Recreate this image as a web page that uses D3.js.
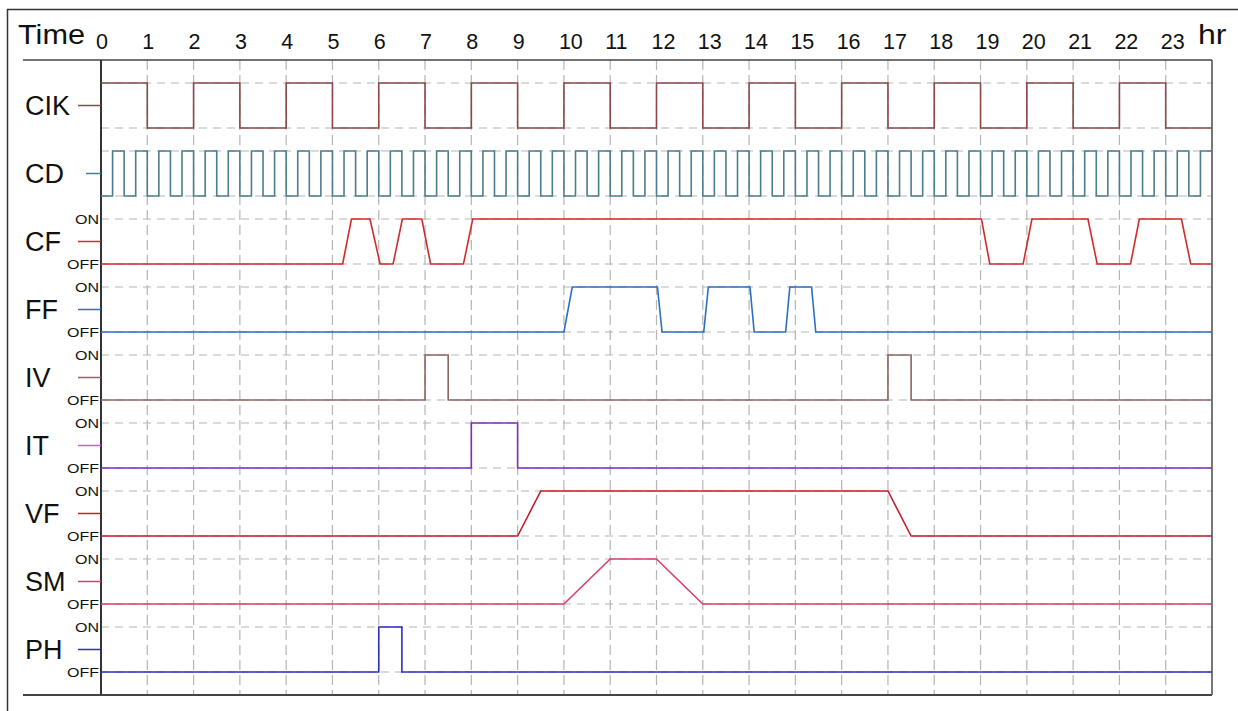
<!DOCTYPE html>
<html>
<head>
<meta charset="utf-8">
<script src="https://cdn.jsdelivr.net/npm/d3@7"></script>
<style>
  html, body { margin: 0; padding: 0; background: #fff; }
  svg { display: block; }
  text { font-family: "Liberation Sans", Arial, sans-serif; fill: #111; }
</style>
</head>
<body>
<svg id="chart" width="1238" height="711"></svg>
<script>
// ---------------- data ----------------
const hourTicks = [0,1,2,3,4,5,6,7,8,9,10,11,12,13,14,15,16,17,18,19,20,21,22,23];
const signals = ["CIK","CD","CF","FF","IV","IT","VF","SM","PH"];
const onOffSignals = ["CF","FF","IV","IT","VF","SM","PH"];

// CLK level for each hour 0..23
const clkLevels = [1,0,1,0,1,0,1,0,1,0,1,0,1,0,1,0,1,0,1,0,1,0,1,0];

// CD high pulses [start, end] in hours
const cdPulses = [
  [0.25,0.5],[0.75,1],[1.25,1.5],[1.75,2],[2.25,2.5],[2.75,3],[3.25,3.5],[3.75,4],
  [4.25,4.5],[4.75,5],[5.25,5.5],[5.75,6],[6.25,6.5],[6.75,7],[7.25,7.5],[7.75,8],
  [8.25,8.5],[8.75,9],[9.25,9.5],[9.75,10],[10.25,10.5],[10.75,11],[11.25,11.5],[11.75,12],
  [12.25,12.5],[12.75,13],[13.25,13.5],[13.75,14],[14.25,14.5],[14.75,15],[15.25,15.5],[15.75,16],
  [16.25,16.5],[16.75,17],[17.25,17.5],[17.75,18],[18.25,18.5],[18.75,19],[19.25,19.5],[19.75,20],
  [20.25,20.5],[20.75,21],[21.25,21.5],[21.75,22],[22.25,22.5],[22.75,23],[23.25,23.5],[23.75,24]
];

// [hour, level] (1 = ON, 0 = OFF)
const cfPoints = [[0,0],[5.22,0],[5.41,1],[5.81,1],[6.03,0],[6.31,0],[6.51,1],[6.93,1],[7.12,0],
  [7.83,0],[8.03,1],[19.02,1],[19.2,0],[19.92,0],[20.11,1],[21.32,1],[21.52,0],[22.24,0],
  [22.43,1],[23.34,1],[23.54,0],[24,0]];
const ffPoints = [[0,0],[10.0,0],[10.18,1],[12.02,1],[12.12,0],[13.02,0],[13.12,1],[14.02,1],
  [14.11,0],[14.79,0],[14.88,1],[15.35,1],[15.44,0],[24,0]];
const ivPoints = [[0,0],[7,0],[7,1],[7.5,1],[7.5,0],[17,0],[17,1],[17.5,1],[17.5,0],[24,0]];
const itPoints = [[0,0],[8,0],[8,1],[9,1],[9,0],[24,0]];
const vfPoints = [[0,0],[9,0],[9.5,1],[17,1],[17.5,0],[24,0]];
const smPoints = [[0,0],[10,0],[11,1],[12,1],[13,0],[24,0]];
const phPoints = [[0,0],[6,0],[6,1],[6.5,1],[6.5,0],[24,0]];

// ---------------- styles ----------------
const lineColor = {CIK:"#8a4848", CD:"#4d7d8c", CF:"#d42a2a", FF:"#2b6fc4", IV:"#8e6464",
  IT:"#7b2fbe", VF:"#c41e2a", SM:"#d8406a", PH:"#2e2ec0"};
const markColor = Object.assign({}, lineColor, {IT:"#dd55dd"});

(function draw() {
  const svg = d3.select("#chart");
  const x = d3.scaleLinear().domain([0,24]).range([101,1212]);
  const row = d3.scalePoint().domain(signals).range([105.5, 649.5]);
  const level = d3.scaleLinear().domain([0,1]).range([22.5,-22.5]);

  const plotTop = 60, plotBottom = 695, plotLeft = 101, plotRight = 1212;

  // outer frame
  svg.append("rect").attr("x",7.5).attr("y",9.5).attr("width",1260).attr("height",740)
    .attr("fill","none").attr("stroke","#333").attr("stroke-width",1.5);

  // grid: horizontal dashed at ON/OFF
  const g = svg.append("g");
  signals.forEach(s => {
    [0,1].forEach(l => {
      const yy = row(s) + level(l);
      g.append("line").attr("x1",plotLeft).attr("x2",plotRight).attr("y1",yy).attr("y2",yy)
        .attr("stroke","#b5b5b5").attr("stroke-width",1.2).attr("stroke-dasharray","8,6");
    });
  });
  // vertical dashed grid
  hourTicks.filter(h => h > 0).forEach(h => {
    g.append("line").attr("x1",x(h)).attr("x2",x(h)).attr("y1",plotTop).attr("y2",plotBottom)
      .attr("stroke","#b5b5b5").attr("stroke-width",1.2).attr("stroke-dasharray","10,5");
  });

  // frame lines
  svg.append("line").attr("x1",23).attr("x2",plotRight).attr("y1",plotTop).attr("y2",plotTop)
    .attr("stroke","#444").attr("stroke-width",1.6);
  svg.append("line").attr("x1",23).attr("x2",plotRight).attr("y1",plotBottom).attr("y2",plotBottom)
    .attr("stroke","#444").attr("stroke-width",2);
  svg.append("line").attr("x1",plotLeft).attr("x2",plotLeft).attr("y1",plotTop).attr("y2",plotBottom)
    .attr("stroke","#333").attr("stroke-width",2);
  svg.append("line").attr("x1",plotRight).attr("x2",plotRight).attr("y1",plotTop).attr("y2",plotBottom)
    .attr("stroke","#555").attr("stroke-width",1.6);

  // header
  svg.append("text").attr("x",18).attr("y",44).attr("font-size",28)
    .attr("textLength",67).attr("lengthAdjust","spacingAndGlyphs").text("Time");
  svg.selectAll("text.tick").data(hourTicks).enter().append("text")
    .attr("class","tick").attr("x",d => x(d) - 5).attr("y",48.5)
    .attr("font-size",21.5).text(d => d);
  svg.append("text").attr("x",1198).attr("y",44).attr("font-size",28)
    .attr("textLength",28.5).attr("lengthAdjust","spacingAndGlyphs").text("hr");

  // row labels + small marks
  signals.forEach(s => {
    svg.append("text").attr("x",25).attr("y",row(s) + 9.5).attr("font-size",27).text(s);
    svg.append("line").attr("x1", s === "CD" ? 86 : 78).attr("x2",plotLeft)
      .attr("y1",row(s)).attr("y2",row(s))
      .attr("stroke",markColor[s]).attr("stroke-width",1.5);
  });
  onOffSignals.forEach(s => {
    svg.append("text").attr("x",99).attr("y",row(s) + level(1)).attr("text-anchor","end")
      .attr("dominant-baseline","central").attr("font-size",13.5)
      .attr("textLength",24).attr("lengthAdjust","spacingAndGlyphs").text("ON");
    svg.append("text").attr("x",99).attr("y",row(s) + level(0)).attr("text-anchor","end")
      .attr("dominant-baseline","central").attr("font-size",13.5)
      .attr("textLength",32).attr("lengthAdjust","spacingAndGlyphs").text("OFF");
  });

  // signal series
  const clkPts = clkLevels.map((v,i) => [i, v]).concat([[24, clkLevels[clkLevels.length-1]]]);
  const cdPts = [[0,0]];
  cdPulses.forEach(([s,e]) => { cdPts.push([s,0],[s,1],[e,1]); if (e < 24) cdPts.push([e,0]); });
  if (cdPts[cdPts.length-1][0] < 24) cdPts.push([24,0]);

  const series = [
    {name:"CIK", pts:clkPts, curve:d3.curveStepAfter},
    {name:"CD", pts:cdPts, curve:d3.curveLinear},
    {name:"CF", pts:cfPoints, curve:d3.curveLinear},
    {name:"FF", pts:ffPoints, curve:d3.curveLinear},
    {name:"IV", pts:ivPoints, curve:d3.curveLinear},
    {name:"IT", pts:itPoints, curve:d3.curveLinear},
    {name:"VF", pts:vfPoints, curve:d3.curveLinear},
    {name:"SM", pts:smPoints, curve:d3.curveLinear},
    {name:"PH", pts:phPoints, curve:d3.curveLinear}
  ];

  series.forEach(sr => {
    const line = d3.line()
      .x(d => x(d[0]))
      .y(d => row(sr.name) + level(d[1]))
      .curve(sr.curve);
    svg.append("path").attr("d", line(sr.pts)).attr("fill","none")
      .attr("stroke", lineColor[sr.name]).attr("stroke-width",1.6)
      .attr("stroke-linejoin","miter");
  });
})();
</script>
</body>
</html>
